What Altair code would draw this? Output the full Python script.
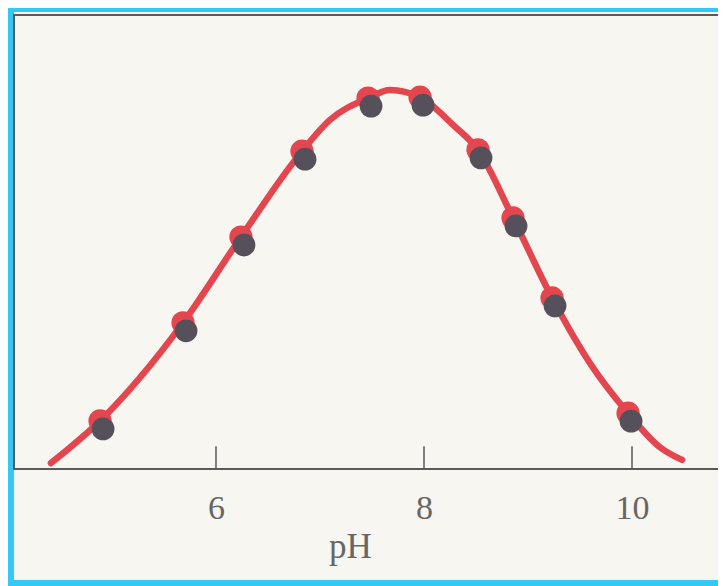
import altair as alt
import pandas as pd

# measured points (pH, relative activity)
ph_points = [4.885, 5.683, 6.240, 6.827, 7.462, 7.962, 8.519, 8.856, 9.231, 9.962]
act_points = [10.6, 32.2, 51.1, 70.0, 81.7, 81.9, 70.3, 55.3, 37.7, 12.3]

# hand-drawn fitted curve
ph_curve = [4.413, 4.885, 5.683, 6.240, 6.827, 7.096, 7.462, 7.673, 7.962,
            8.279, 8.519, 8.856, 9.231, 9.596, 9.962, 10.269, 10.481]
act_curve = [1.3, 10.6, 32.2, 51.1, 70.0, 76.9, 81.7, 83.5, 81.9,
             75.8, 70.3, 55.3, 37.7, 23.3, 12.3, 4.8, 2.0]

tick_values = [6, 8, 10]

pts = pd.DataFrame({"pH": ph_points, "act": act_points})
curve = pd.DataFrame({"pH": ph_curve, "act": act_curve, "order": list(range(len(ph_curve)))})
ticks = pd.DataFrame({"pH": tick_values, "y0": [0] * 3, "y1": [5.0] * 3})

W, H = 703, 454
xscale = alt.Scale(domain=[4.0577, 10.8173], nice=False, zero=False)
yscale = alt.Scale(domain=[0, 100], nice=False, zero=False)

PAGE = "#f8f6f0"
INK = "#5a5a5a"
RED = "#e4464f"

one = pd.DataFrame({"a": [0]})

bg = alt.Chart(one).mark_rect(color=PAGE).encode(
    x=alt.value(0), x2=alt.value(W + 10), y=alt.value(-3), y2=alt.value(H + 111)
)

frame = alt.Chart(one).mark_rect(
    fill="transparent", stroke=INK, strokeWidth=2
).encode(x=alt.value(0), x2=alt.value(W + 4), y=alt.value(0), y2=alt.value(H))

xaxis = alt.Axis(values=tick_values, format="d", ticks=False, domain=False, grid=False,
                 zindex=2,
                 labelFont="Liberation Serif", labelFontSize=34,
                 labelColor="#666666", labelPadding=49,
                 labelBaseline="alphabetic", labelFlush=False,
                 title="pH", titleFont="Liberation Serif",
                 titleFontSize=35, titleFontWeight="normal",
                 titleColor="#666666", titleBaseline="alphabetic",
                 titleX=336, titleY=88, titleAlign="center")

tick_rules = alt.Chart(ticks).mark_rule(color=INK, strokeWidth=1.5).encode(
    x=alt.X("pH:Q", scale=xscale, axis=xaxis),
    y=alt.Y("y0:Q", scale=yscale, axis=None),
    y2="y1:Q",
)

line = alt.Chart(curve).mark_line(
    interpolate="monotone", strokeWidth=6.5, color=RED, strokeCap="round"
).encode(
    x=alt.X("pH:Q", scale=xscale),
    y=alt.Y("act:Q", scale=yscale, axis=None),
    order="order:Q",
)

halos = alt.Chart(pts).mark_circle(size=540, color=RED, opacity=1).encode(
    x=alt.X("pH:Q", scale=xscale),
    y=alt.Y("act:Q", scale=yscale, axis=None),
)

dots = alt.Chart(pts).mark_circle(size=520, color="#55505a", opacity=1,
                                  xOffset=3, yOffset=8).encode(
    x=alt.X("pH:Q", scale=xscale),
    y=alt.Y("act:Q", scale=yscale, axis=None),
)

chart = alt.layer(bg, frame, tick_rules, line, halos, dots).properties(
    width=W, height=H,
    padding={"left": 6, "top": 7, "right": 1, "bottom": 117},
    autosize=alt.AutoSizeParams(type="none"),
    background="#35c8f6",
).configure_view(stroke=None)

chart.save("out.html", embed_options={"renderer": "svg", "actions": False})
